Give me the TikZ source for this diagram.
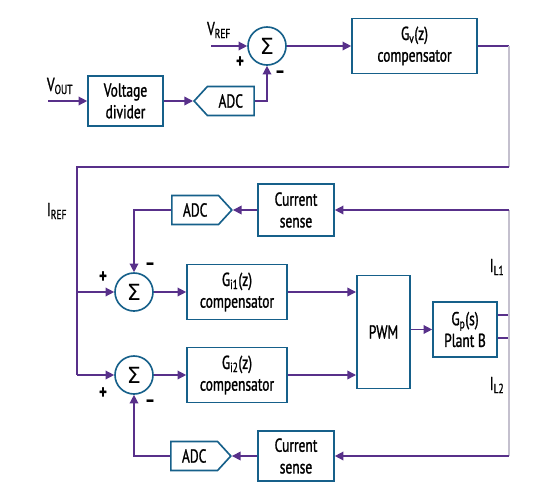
\documentclass[tikz,border=0pt]{standalone}
\usepackage{fontspec}
\setmainfont{PT Sans}[FakeStretch=0.72, FakeBold=1.2]
\newfontfamily\sigmafont{DejaVu Sans}
\usetikzlibrary{arrows.meta,calc,positioning,shapes.symbols}
\definecolor{blockblue}{RGB}{22,96,138}
\definecolor{wirepurple}{RGB}{88,48,138}
\definecolor{railgray}{RGB}{196,192,206}

\begin{document}
\begin{tikzpicture}[
    x=0.03cm, y=-0.03cm,
    block/.style={draw=blockblue, line width=1.4pt, fill=white, align=center, inner sep=1pt, font=\fontsize{16}{18.5}\selectfont},
    adc/.style={draw=blockblue, line width=1.4pt, fill=white, shape=signal, signal pointer angle=95, minimum width=1.8cm, minimum height=0.87cm, inner sep=1pt, font=\fontsize{16}{16}\selectfont},
    summer/.style={draw=blockblue, line width=1.4pt, circle, minimum size=1.14cm, inner sep=0pt, font=\fontsize{19}{19}\selectfont\sigmafont},
    wire/.style={draw=wirepurple, line width=1.2pt},
    flow/.style={wire, -{Triangle[length=2.6mm, width=2.6mm]}},
    rail/.style={draw=railgray, line width=0.9pt},
    sign mark/.style={font=\fontsize{17}{17}\selectfont\bfseries},
    port label/.style={font=\fontsize{16}{16}\selectfont}
]

\useasboundingbox (0,0) rectangle (554,496);

% === Voltage loop ===
\node[block, minimum width=2.25cm, minimum height=1.5cm] (divider) at (125.5,101) {Voltage\\divider};
\node[adc, signal to=west, anchor=west] (adcV) at (193,101) {ADC};
\node[summer] (sumV) at (267,46) {Σ};
\node[block, minimum width=3.75cm, minimum height=1.65cm] (Gv) at (414.5,46) {G\textsubscript{v}(z)\\compensator};

\coordinate (vout) at (48,101);
\coordinate (vref) at (211,46);
\node[port label] (voutlabel) at (60,86) {V\textsubscript{OUT}};
\node[port label] (vreflabel) at (219,30) {V\textsubscript{REF}};
\node[sign mark] (plusV) at (240,62) {+};
\node[sign mark] (minusV) at (280,74) {--};

\draw[flow] (vout) -- (divider.west);
\draw[flow] (divider.east) -- (adcV.west);
\draw[flow] (adcV.east) -| (sumV.south);
\draw[flow] (vref) -- (sumV.west);
\draw[flow] (sumV.east) -- (Gv.west);

% Reference current rail
\coordinate (gvout) at (509,46);
\coordinate (railtop) at (509,167);
\coordinate (ireftop) at (77,167);
\coordinate (iref1) at (77,292);
\coordinate (iref2) at (77,375);
\draw[wire] (Gv.east) -- (gvout);
\draw[rail] (gvout) -- (railtop);
\draw[wire] (railtop) -- (ireftop) -- (iref2);
\node[port label] (ireflabel) at (57,211) {I\textsubscript{REF}};

% === Current loops ===
\node[summer] (sum1) at (134,292) {Σ};
\node[summer] (sum2) at (134,375) {Σ};
\node[block, minimum width=3cm, minimum height=1.65cm] (Gi1) at (237,292) {G\textsubscript{i1}(z)\\compensator};
\node[block, minimum width=3cm, minimum height=1.65cm] (Gi2) at (237,375) {G\textsubscript{i2}(z)\\compensator};
\node[block, minimum width=1.6cm, minimum height=3.4cm] (pwm) at (383.5,332) {PWM};
\node[block, minimum width=1.92cm, minimum height=1.65cm] (plant) at (465,329.5) {G\textsubscript{p}(s)\\Plant B};

\node[block, minimum width=2.28cm, minimum height=1.56cm] (sense1) at (296,210) {Current\\sense};
\node[block, minimum width=2.28cm, minimum height=1.5cm] (sense2) at (296,456) {Current\\sense};
\node[adc, signal to=east, anchor=west] (adc1) at (171,210) {ADC};
\node[adc, signal to=east, anchor=west] (adc2) at (170,456) {ADC};

\node[sign mark] (plus1) at (103,277) {+};
\node[sign mark] (minus1) at (150,266) {--};
\node[sign mark] (plus2) at (103,393) {+};
\node[sign mark] (minus2) at (150,403) {--};

\draw[flow] (iref1) -- (sum1.west);
\draw[flow] (iref2) -- (sum2.west);
\draw[flow] (sum1.east) -- (Gi1.west);
\draw[flow] (sum2.east) -- (Gi2.west);
\draw[flow] (Gi1.east) -- (Gi1.east -| pwm.west);
\draw[flow] (Gi2.east) -- (Gi2.east -| pwm.west);
\draw[flow] (plant.west -| pwm.east) -- (plant.west);

% Plant outputs and sensing
\coordinate (il1) at (509,315);
\coordinate (il2) at (509,338);
\coordinate (fb1) at (509,210);
\coordinate (fb2) at (509,456);
\draw[wire] (il1 -| plant.east) -- (il1);
\draw[wire] (il2 -| plant.east) -- (il2);
\draw[rail] (fb1) -- (fb2);
\node[port label] (il1label) at (497,267) {I\textsubscript{L1}};
\node[port label] (il2label) at (497,385) {I\textsubscript{L2}};

\draw[flow] (fb1) -- (sense1.east);
\draw[flow] (fb2) -- (sense2.east);
\draw[flow] (sense1.west) -- (adc1.east);
\draw[flow] (sense2.west) -- (adc2.east);
\draw[flow] (adc1.west) -| (sum1.north);
\draw[flow] (adc2.west) -| (sum2.south);

\end{tikzpicture}
\end{document}
